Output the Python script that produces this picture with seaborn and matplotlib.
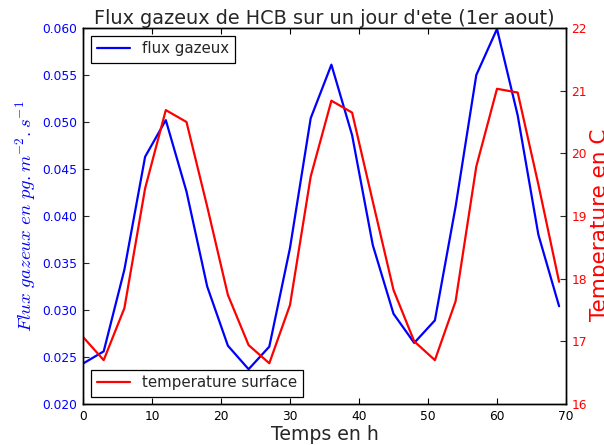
import matplotlib
matplotlib.use("Agg")
import matplotlib.pyplot as plt
import seaborn as sns
import pandas as pd

# Data
temps = [0, 3, 6, 9, 12, 15, 18, 21, 24, 27, 30, 33, 36, 39, 42, 45, 48, 51, 54, 57, 60, 63, 66, 69]
flux = [0.0243, 0.0256, 0.0343, 0.0463, 0.0502, 0.0426, 0.0325, 0.0262, 0.0237, 0.0261,
        0.0366, 0.0504, 0.0561, 0.0486, 0.0369, 0.0296, 0.0265, 0.0289, 0.0410, 0.0550,
        0.0599, 0.0507, 0.0380, 0.0304]
temperature = [17.07, 16.70, 17.53, 19.44, 20.69, 20.50, 19.15, 17.74, 16.94, 16.65,
               17.58, 19.63, 20.84, 20.65, 19.23, 17.82, 17.00, 16.70, 17.64, 19.79,
               21.03, 20.97, 19.50, 17.95]

df = pd.DataFrame({"t": temps, "flux": flux, "temp": temperature})

sns.set_style("white")
plt.rcParams["font.family"] = ["DejaVu Sans"]
plt.rcParams["mathtext.fontset"] = "cm"
plt.rcParams["xtick.direction"] = "in"
plt.rcParams["ytick.direction"] = "in"

fig = plt.figure(figsize=(6.04, 4.45), dpi=100)
ax1 = fig.add_axes([83 / 604, 1 - 404 / 445, (566 - 83) / 604, (404 - 28) / 445])
ax2 = ax1.twinx()

sns.lineplot(data=df, x="t", y="flux", ax=ax1, color="b", lw=1.6, label="flux gazeux")
sns.lineplot(data=df, x="t", y="temp", ax=ax2, color="r", lw=1.6, label="temperature surface")

ax1.set_xlim(0, 70)
ax1.set_ylim(0.020, 0.060)
ax2.set_ylim(16, 22)
ax1.set_xticks([0, 10, 20, 30, 40, 50, 60, 70])
ax1.set_yticks([0.020, 0.025, 0.030, 0.035, 0.040, 0.045, 0.050, 0.055, 0.060])
ax1.set_yticklabels(["0.020", "0.025", "0.030", "0.035", "0.040", "0.045", "0.050", "0.055", "0.060"])
ax2.set_yticks([16, 17, 18, 19, 20, 21, 22])

for ax in (ax1, ax2):
    for s in ax.spines.values():
        s.set_visible(True)
        s.set_color("black")
        s.set_linewidth(1.0)

ax1.tick_params(axis="x", which="both", top=True, bottom=True, length=4, width=0.8,
                labelsize=8.8, colors="black", pad=4)
ax1.tick_params(axis="y", left=True, right=False, length=4, width=0.8,
                labelsize=8.8, labelcolor="b", pad=4)
ax2.tick_params(axis="y", right=True, left=False, length=4, width=0.8,
                labelsize=8.8, labelcolor="r", pad=4)

ax1.set_xlabel("Temps en h", fontsize=13.6, labelpad=2)
ax1.set_ylabel(r"$Flux\ gazeux\ en\ pg.m^{-2}.s^{-1}$", fontsize=13.5, color="b", labelpad=3)
ax2.set_ylabel("Temperature en C", fontsize=15.5, color="r", labelpad=2)
ax2.yaxis.label.set_y(0.476)
ax1.set_title("Flux gazeux de HCB sur un jour d'ete (1er aout)", fontsize=13.9, pad=3)

leg1 = ax1.legend(loc="upper left", fontsize=10.8, fancybox=False, framealpha=1,
                  edgecolor="black", borderpad=0.4, handlelength=2.2)
leg1.get_frame().set_linewidth(0.9)
leg2 = ax2.legend(loc="lower left", fontsize=10.8, fancybox=False, framealpha=1,
                  edgecolor="black", borderpad=0.4, handlelength=2.2)
leg2.get_frame().set_linewidth(0.9)

fig.savefig("out.png", dpi=100)
